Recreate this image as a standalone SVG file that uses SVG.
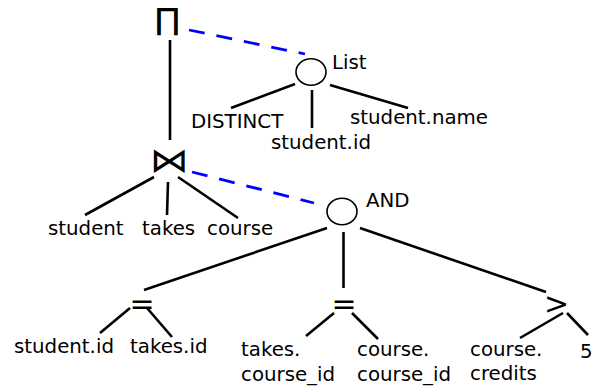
<svg xmlns="http://www.w3.org/2000/svg" width="609" height="388" viewBox="0 0 609 388">
<style>
text{font-family:"DejaVu Sans","Liberation Sans",sans-serif;fill:#000}
.lbl{font-size:19.8px}
.op{font-size:30px;text-anchor:middle}
.e{stroke:#000;stroke-width:2.6;fill:none;stroke-linecap:butt}
.d{stroke:#0000ff;stroke-width:2.8;fill:none;stroke-dasharray:16 12}
.c{fill:#fff;stroke:#000;stroke-width:1.6}
</style>
<rect width="609" height="388" fill="#fff"/>
<g id="connectors">
<line class="e" x1="170" y1="40" x2="170" y2="140"/>
<line class="d" x1="189" y1="30" x2="305" y2="54"/>
<line class="d" x1="192" y1="172" x2="314" y2="203"/>
<line class="e" x1="154" y1="177" x2="85" y2="215"/>
<line class="e" x1="168" y1="182" x2="167" y2="215"/>
<line class="e" x1="178" y1="177" x2="238" y2="218"/>
<line class="e" x1="295" y1="84" x2="231" y2="108"/>
<line class="e" x1="312" y1="90" x2="312" y2="128"/>
<line class="e" x1="330" y1="85" x2="408" y2="108"/>
<line class="e" x1="327" y1="228" x2="144" y2="290"/>
<line class="e" x1="343.5" y1="232" x2="343.5" y2="288"/>
<line class="e" x1="360" y1="228" x2="546" y2="292"/>
<line class="e" x1="130" y1="308" x2="100" y2="333"/>
<line class="e" x1="147" y1="308" x2="172" y2="337"/>
<line class="e" x1="334" y1="313" x2="306" y2="336"/>
<line class="e" x1="352" y1="313" x2="378" y2="339"/>
<line class="e" x1="563" y1="313" x2="520" y2="338"/>
<line class="e" x1="567" y1="313" x2="588" y2="335"/>
</g>
<g id="project"><text x="167.5" y="34.5" style="font-size:37px;text-anchor:middle">Π</text></g>
<g id="join"><text transform="translate(169,172) scale(1,0.88)" x="0" y="0" style="font-size:39px;text-anchor:middle">⋈</text></g>
<g id="list"><ellipse class="c" cx="311" cy="72" rx="15" ry="13.3"/><text class="lbl" x="332" y="69">List</text></g>
<g id="distinct"><text class="lbl" x="191" y="128">DISTINCT</text></g>
<g id="student-id-1"><text class="lbl" x="271" y="149">student.id</text></g>
<g id="student-name"><text class="lbl" x="350" y="124">student.name</text></g>
<g id="student"><text class="lbl" x="48" y="234.5">student</text></g>
<g id="takes"><text class="lbl" x="142" y="235">takes</text></g>
<g id="course"><text class="lbl" x="207" y="235">course</text></g>
<g id="and"><ellipse class="c" cx="342" cy="211.5" rx="15" ry="13.3"/><text class="lbl" x="366" y="206.5">AND</text></g>
<g id="eq1"><text class="op" x="142" y="314">=</text></g>
<g id="eq2"><text class="op" x="344" y="314">=</text></g>
<g id="gt"><text class="op" x="556.5" y="314">&gt;</text></g>
<g id="student-id-2"><text class="lbl" x="14" y="352.5">student.id</text></g>
<g id="takes-id"><text class="lbl" x="130" y="352.5">takes.id</text></g>
<g id="takes-course-id"><text class="lbl" x="241" y="356">takes.</text><text class="lbl" x="241" y="380.5">course_id</text></g>
<g id="course-course-id"><text class="lbl" x="357" y="356">course.</text><text class="lbl" x="357" y="380.5">course_id</text></g>
<g id="course-credits"><text class="lbl" x="470" y="355.5">course.</text><text class="lbl" x="470" y="380">credits</text></g>
<g id="five"><text class="lbl" x="580" y="358">5</text></g>
</svg>
